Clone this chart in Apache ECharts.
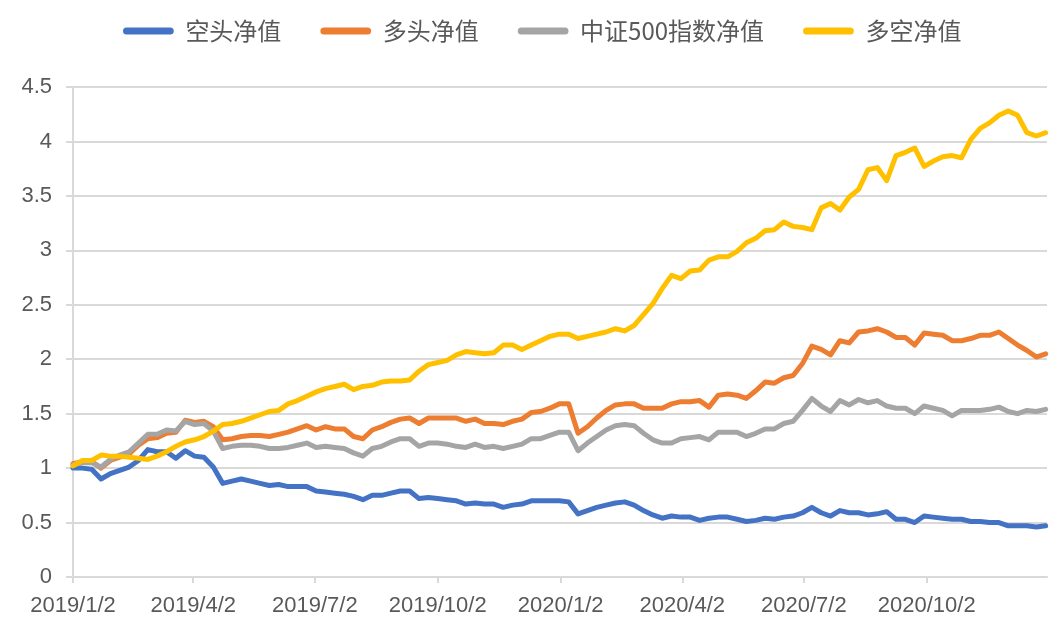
<!DOCTYPE html>
<html>
<head>
<meta charset="utf-8">
<script src="https://cdn.jsdelivr.net/npm/echarts@6/dist/echarts.min.js"></script>
<style>
html,body{margin:0;padding:0;background:#fff;}
#chart{width:1059px;height:630px;}
</style>
</head>
<body>
<div id="chart"></div>
<script>
// ---- data ----
const seriesNames = ['空头净值', '多头净值', '中证500指数净值', '多空净值'];
const tickLabels = ['2019/1/2', '2019/4/2', '2019/7/2', '2019/10/2', '2020/1/2', '2020/4/2', '2020/7/2', '2020/10/2'];
const startDate = '2019/1/2';
const endDate = '2020/12/31';
const stepDays = 7; // weekly observations

const shortNav = [1.00,1.00,0.99,0.90,0.95,0.98,1.01,1.07,1.17,1.15,1.15,1.09,1.16,1.11,1.10,1.01,0.86,0.88,
  0.90,0.88,0.86,0.84,0.85,0.83,0.83,0.83,0.79,0.78,0.77,0.76,0.74,0.71,0.75,0.75,0.77,0.79,
  0.79,0.72,0.73,0.72,0.71,0.70,0.67,0.68,0.67,0.67,0.64,0.66,0.67,0.70,0.70,0.70,0.70,
  0.69,0.58,0.61,0.64,0.66,0.68,0.69,0.66,0.61,0.57,0.54,0.56,0.55,0.55,0.52,0.54,0.55,0.55,
  0.53,0.51,0.52,0.54,0.53,0.55,0.56,0.59,0.64,0.59,0.56,0.61,0.59,0.59,0.57,0.58,0.60,0.53,
  0.53,0.50,0.56,0.55,0.54,0.53,0.53,0.51,0.51,0.50,0.50,0.47,0.47,0.47,0.46,0.47];
const longNav = [1.04,1.06,1.06,1.00,1.07,1.10,1.13,1.21,1.27,1.28,1.32,1.33,1.44,1.42,1.43,1.38,1.26,1.27,
  1.29,1.30,1.30,1.29,1.31,1.33,1.36,1.39,1.35,1.38,1.36,1.36,1.29,1.27,1.35,1.38,1.42,1.45,
  1.46,1.41,1.46,1.46,1.46,1.46,1.43,1.45,1.41,1.41,1.40,1.43,1.45,1.51,1.52,1.55,1.59,
  1.59,1.32,1.38,1.46,1.53,1.58,1.59,1.59,1.55,1.55,1.55,1.59,1.61,1.61,1.62,1.56,1.67,1.68,
  1.67,1.64,1.71,1.79,1.78,1.83,1.85,1.96,2.12,2.09,2.04,2.17,2.15,2.25,2.26,2.28,2.25,2.20,
  2.20,2.13,2.24,2.23,2.22,2.17,2.17,2.19,2.22,2.22,2.25,2.19,2.13,2.08,2.02,2.05];
const indexNav = [1.03,1.05,1.05,1.01,1.08,1.12,1.15,1.23,1.31,1.31,1.35,1.34,1.43,1.40,1.41,1.34,1.18,1.20,
  1.21,1.21,1.20,1.18,1.18,1.19,1.21,1.23,1.19,1.20,1.19,1.18,1.14,1.11,1.18,1.20,1.24,1.27,
  1.27,1.20,1.23,1.23,1.22,1.20,1.19,1.22,1.19,1.20,1.18,1.20,1.22,1.27,1.27,1.30,1.33,
  1.33,1.16,1.23,1.29,1.35,1.39,1.40,1.39,1.32,1.26,1.23,1.23,1.27,1.28,1.29,1.26,1.33,1.33,
  1.33,1.29,1.32,1.36,1.36,1.41,1.43,1.53,1.64,1.57,1.52,1.62,1.58,1.63,1.60,1.62,1.57,1.55,
  1.55,1.50,1.57,1.55,1.53,1.48,1.53,1.53,1.53,1.54,1.56,1.52,1.50,1.53,1.52,1.54];
const lsNav = [1.02,1.07,1.07,1.12,1.11,1.11,1.10,1.09,1.08,1.11,1.15,1.20,1.24,1.26,1.29,1.34,1.40,1.41,
  1.43,1.46,1.49,1.52,1.53,1.59,1.62,1.66,1.70,1.73,1.75,1.77,1.72,1.75,1.76,1.79,1.80,1.80,
  1.81,1.89,1.95,1.97,1.99,2.04,2.07,2.06,2.05,2.06,2.13,2.13,2.09,2.13,2.17,2.21,2.23,
  2.23,2.19,2.21,2.23,2.25,2.28,2.26,2.31,2.41,2.51,2.65,2.77,2.74,2.81,2.82,2.91,2.94,2.94,
  2.99,3.07,3.11,3.18,3.19,3.26,3.22,3.21,3.19,3.39,3.43,3.37,3.49,3.56,3.74,3.76,3.64,3.87,
  3.90,3.94,3.77,3.82,3.86,3.87,3.85,4.02,4.12,4.17,4.24,4.28,4.24,4.08,4.05,4.08];
const colors = ['#4472C4', '#ED7D31', '#A5A5A5', '#FFC000'];

// ---- daily category axis ----
function parseD(s){ const p = s.split('/').map(Number); return Date.UTC(p[0], p[1]-1, p[2]); }
function fmt(t){ const d = new Date(t); return d.getUTCFullYear() + '/' + (d.getUTCMonth()+1) + '/' + d.getUTCDate(); }
const days = [];
for (let t = parseD(startDate); t <= parseD(endDate); t += 86400000) days.push(fmt(t));
const obsDates = shortNav.map((_, i) => days[i * stepDays]);

const allSeries = [shortNav, longNav, indexNav, lsNav];
const tickSet = new Set(tickLabels);
const showTick = (idx, val) => tickSet.has(val);

const chart = echarts.init(document.getElementById('chart'), null, {renderer: 'canvas'});
chart.setOption({
  animation: false,
  color: colors,
  legend: {
    top: 14,
    left: 118,
    itemWidth: 58,
    itemHeight: 7,
    itemGap: 39,
    icon: 'path://M4,0 L54,0 A4,4 0 0 1 54,8 L4,8 A4,4 0 0 1 4,0 Z',
    textStyle: {fontFamily: 'Noto Sans CJK SC', fontSize: 24, color: '#595959', padding: [0, 0, 0, 3]},
    data: seriesNames
  },
  grid: {left: 73, right: 12, top: 87, bottom: 53, containLabel: false},
  xAxis: {
    type: 'category',
    boundaryGap: false,
    data: days,
    axisLine: {lineStyle: {color: '#D9D9D9', width: 2}},
    axisTick: {show: true, interval: showTick, length: 6, lineStyle: {color: '#D9D9D9', width: 2}},
    axisLabel: {interval: showTick, margin: 18, fontFamily: 'Liberation Sans', fontSize: 22, color: '#595959'},
    splitLine: {show: false}
  },
  yAxis: {
    type: 'value',
    min: 0, max: 4.5, interval: 0.5,
    axisLine: {show: true, lineStyle: {color: '#D9D9D9', width: 2}},
    axisTick: {show: true, length: 7, lineStyle: {color: '#D9D9D9', width: 2}},
    axisLabel: {margin: 21, fontFamily: 'Liberation Sans', fontSize: 22, color: '#595959'},
    splitLine: {show: true, lineStyle: {color: '#D9D9D9', width: 2}}
  },
  series: seriesNames.map((name, k) => ({
    name: name,
    type: 'line',
    showSymbol: false,
    symbol: 'none',
    data: allSeries[k].map((v, i) => [obsDates[i], v]),
    lineStyle: {width: 5, color: colors[k], join: 'round', cap: 'round'},
    itemStyle: {color: colors[k]},
    z: 2 + k
  }))
});
</script>
</body>
</html>
